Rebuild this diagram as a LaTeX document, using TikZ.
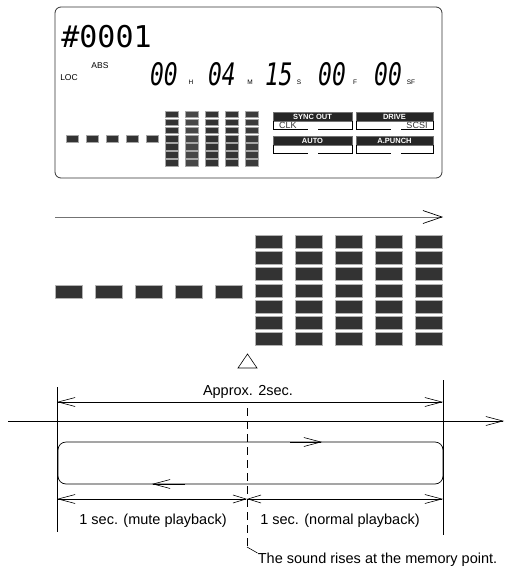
\documentclass[tikz,border=0pt]{standalone}
\usepackage{fontspec}
\setmainfont{Liberation Sans}
\newfontfamily\lcdfont{DejaVu Sans Mono}
\usetikzlibrary{arrows.meta}

\begin{document}
\begin{tikzpicture}[
    x=1pt, y=-1pt, line width=0.7pt,
    every node/.style={inner sep=0pt, font=\fontsize{14.5}{17}\selectfont},
    segSmall/.style={draw=black!35, fill=black!80, line width=0.5pt},
    segBig/.style={draw=black!30, fill=black!80, line width=0.8pt},
    bigDigit/.style={font=\lcdfont\itshape\fontsize{31}{31}\selectfont, xscale=0.74},
    unitTxt/.style={font=\fontsize{6.5}{7}\selectfont},
    lcdTxt/.style={font=\fontsize{8.5}{9}\selectfont},
    headBox/.style={draw=black!55, fill=black!85, line width=0.5pt},
    headTxt/.style={font=\bfseries\fontsize{7.5}{8}\selectfont, text=white},
    subTxt/.style={font=\fontsize{9}{10}\selectfont, text=black!80},
    barb/.tip={Straight Barb[length=17pt,width=9pt,line width=0.6pt]},
    barbShort/.tip={Straight Barb[length=13pt,width=8pt,line width=0.6pt]},
    tipEnd/.style={-barb},
    dimBoth/.style={barb-barb},
    dimShort/.style={barb-barbShort}
]
    \useasboundingbox (0,0) rectangle (505,574);

    % LCD panel
    \draw[black!80, line width=0.8pt, rounded corners=6pt] (55,7) rectangle (442,178);
    \node[font=\lcdfont\fontsize{30}{30}\selectfont, anchor=west] (lcdNum) at (61,37) {\#0001};
    \node[lcdTxt] (lcdLoc) at (69,78) {LOC};
    \node[lcdTxt] (lcdAbs) at (100,66) {ABS};
    \node[bigDigit] (lcdH) at (164,74) {00};
    \node[unitTxt] (unitH) at (191,82) {H};
    \node[bigDigit] (lcdM) at (222,74) {04};
    \node[unitTxt] (unitM) at (250,82) {M};
    \node[bigDigit] (lcdS) at (279,74) {15};
    \node[unitTxt] (unitS) at (299,82) {S};
    \node[bigDigit] (lcdF) at (332,74) {00};
    \node[unitTxt] (unitF) at (355,82) {F};
    \node[bigDigit] (lcdSF) at (388,74) {00};
    \node[unitTxt] (unitSF) at (411,82) {SF};

    % small level meter
    \foreach \i in {0,...,4}
        \draw[segSmall] (66+20*\i,135.3) rectangle ++(12,6.5);
    \foreach \j/\shade in {0/80,1/72,2/80,3/80,4/77}
        \foreach \k in {0,...,6}
            \draw[segSmall, fill=black!\shade] (165+20*\j,111+8.1*\k) rectangle ++(13,6.5);

    % status boxes
    \foreach \bx/\by/\bw/\blabel/\bname in {273/112/79/SYNC OUT/boxSync, 356/112/77/DRIVE/boxDrive,
                                           273/136/79/AUTO/boxAuto, 356/136/77/A.PUNCH/boxPunch} {
        \draw[headBox] (\bx,\by) rectangle ++(\bw,9);
        \node[headTxt] (\bname) at (\bx+\bw/2,\by+4.8) {\blabel};
        \draw[line width=0.6pt] (\bx,\by+9) -- (\bx,\by+17.5) -- (\bx+35,\by+17.5);
        \draw[line width=0.6pt] (\bx+45,\by+17.5) -- (\bx+\bw,\by+17.5) -- (\bx+\bw,\by+9);
    }
    \node[subTxt] (txtClk) at (288,125.3) {CLK};
    \node[subTxt] (txtScsi) at (417,125.3) {SCSI};

    % flow arrow
    \coordinate (flowL) at (55,217);
    \coordinate (flowR) at (443,217);
    \draw[black!55, line width=0.9pt, -{Straight Barb[length=19pt,width=13pt,color=black,line width=0.7pt]}] (flowL) -- (flowR);

    % big level meter
    \foreach \i in {0,...,4}
        \draw[segBig] (55+40*\i,285) rectangle ++(27,13);
    \foreach \j in {0,...,4}
        \foreach \k in {0,...,6}
            \draw[segBig] (255+40*\j,235+16.3*\k) rectangle ++(27,13);

    % memory point mark
    \draw[line width=0.6pt] (238,368) -- (257,368) -- (247.5,354) -- cycle;

    % time axis
    \coordinate (bndLt) at (57,387);
    \coordinate (bndLb) at (57,532);
    \coordinate (bndRt) at (443,380);
    \coordinate (bndRb) at (443,535);
    \draw (bndLt) -- (bndLb);
    \draw (bndRt) -- (bndRb);

    \coordinate (spanL) at (57,402);
    \coordinate (spanR) at (443,402);
    \draw[dimBoth] (spanL) -- (spanR);
    \node[anchor=base] (txtSpan) at (248,395) {Approx. 2sec.};

    \coordinate (axisL) at (8,421);
    \coordinate (axisR) at (504,421);
    \draw[tipEnd] (axisL) -- (axisR);

    % playback loop
    \draw[rounded corners=8pt] (58,442) rectangle (443,484);
    \draw[tipEnd] (290,442) -- (322,442);
    \draw[tipEnd] (185,484) -- (152,484);

    \coordinate (halfL) at (57,499);
    \coordinate (memX) at (247,499);
    \coordinate (halfR) at (443,499);
    \draw[dimShort] (halfL) -- (memX);
    \draw[dimShort] (halfR) -- (memX);
    \node[anchor=base] (txtMute) at (153,524) {1 sec. (mute playback)};
    \node[anchor=base] (txtNormal) at (340,524) {1 sec. (normal playback)};

    % memory point leader
    \coordinate (memTop) at (247,408);
    \coordinate (memBend) at (247,547);
    \node[anchor=north west] (txtMem) at (257.5,553) {The sound rises at the memory point.};
    \draw[line width=0.6pt, dash pattern=on 8pt off 5pt] (memTop) -- (memBend);
    \draw[line width=0.6pt] (memBend) -- (txtMem.north west);
\end{tikzpicture}
\end{document}
